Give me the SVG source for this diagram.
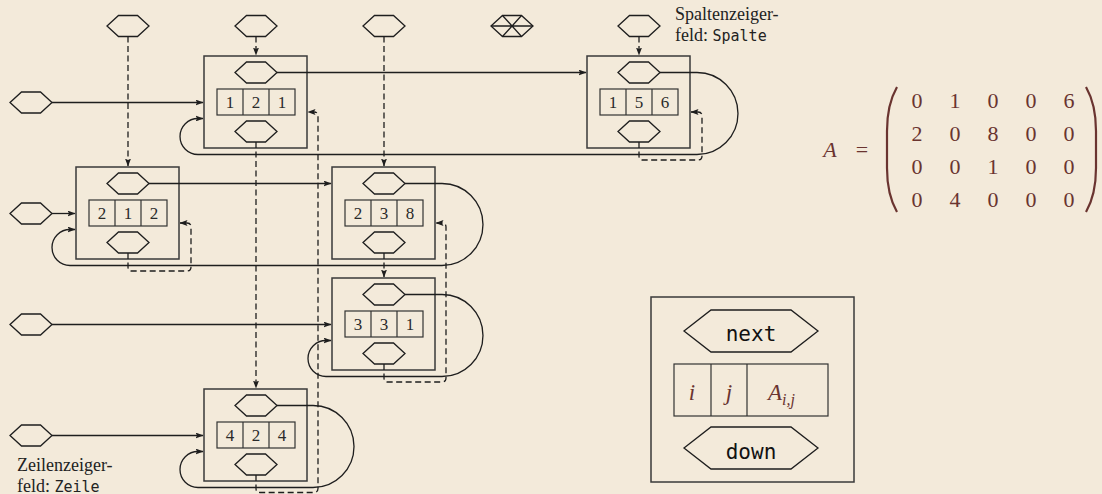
<svg xmlns="http://www.w3.org/2000/svg" xmlns:xlink="http://www.w3.org/1999/xlink" width="1102" height="494" viewBox="0 0 1102 494">
<defs>
<style>
.bx{fill:none;stroke:#3a3a3a;stroke-width:1.5}
.hx{fill:none;stroke:#1e1e1e;stroke-width:1.3;stroke-linejoin:miter}
.cell{fill:none;stroke:#333;stroke-width:1.2}
.num{font-family:"Liberation Serif",serif;font-size:17px;fill:#2a2a2a;text-anchor:middle}
.ln{fill:none;stroke:#1e1e1e;stroke-width:1.3}
.dl{fill:none;stroke:#1e1e1e;stroke-width:1.3;stroke-dasharray:6 3.5}
.lbl{font-family:"Liberation Serif",serif;font-size:18px;fill:#222}
.mono{font-family:"DejaVu Sans Mono",monospace;font-size:15px}
.mx{font-family:"Liberation Serif",serif;font-size:22px;fill:#6a3430;text-anchor:middle}
.it{font-style:italic}
.par{fill:none;stroke:#6a3430;stroke-width:2.2}
</style>
<polygon id="hx" class="hx" points="-21,0 -9.5,-10.5 9.5,-10.5 21,0 9.5,10.5 -9.5,10.5"/>
<marker id="ah" viewBox="0 0 8 6" refX="7.5" refY="3" markerWidth="8" markerHeight="6" markerUnits="userSpaceOnUse" orient="auto">
<path d="M0,0 L8,3 L0,6 L1.6,3 z" fill="#1e1e1e"/>
</marker>
</defs>
<rect width="1102" height="494" fill="#f3eada"/>

<!-- header hexagons -->
<g id="col1-head"><use xlink:href="#hx" x="128" y="26"/></g>
<g id="col2-head"><use xlink:href="#hx" x="256" y="26"/></g>
<g id="col3-head"><use xlink:href="#hx" x="384" y="26"/></g>
<g id="col4-head"><use xlink:href="#hx" x="512" y="26"/><path class="hx" d="M491,26 H533 M502.5,15.5 L521.5,36.5 M521.5,15.5 L502.5,36.5"/></g>
<g id="col5-head"><use xlink:href="#hx" x="639" y="26"/></g>

<!-- row pointer hexagons -->
<g id="row1-head"><use xlink:href="#hx" x="31" y="102.5"/></g>
<g id="row2-head"><use xlink:href="#hx" x="31" y="213.5"/></g>
<g id="row3-head"><use xlink:href="#hx" x="31" y="324.5"/></g>
<g id="row4-head"><use xlink:href="#hx" x="31" y="435.5"/></g>

<!-- nodes -->
<g id="n121">
<rect class="bx" x="204" y="56" width="103" height="92"/>
<use xlink:href="#hx" x="256" y="72.5"/>
<rect class="cell" x="217" y="89" width="78" height="26"/><path class="cell" d="M243,89 V115 M269,89 V115"/>
<text class="num" x="230" y="108">1</text><text class="num" x="256" y="108">2</text><text class="num" x="282" y="108">1</text>
<use xlink:href="#hx" x="256" y="131.5"/>
</g>
<g id="n156">
<rect class="bx" x="587" y="56" width="103" height="92"/>
<use xlink:href="#hx" x="639" y="72.5"/>
<rect class="cell" x="600" y="89" width="78" height="26"/><path class="cell" d="M626,89 V115 M652,89 V115"/>
<text class="num" x="613" y="108">1</text><text class="num" x="639" y="108">5</text><text class="num" x="665" y="108">6</text>
<use xlink:href="#hx" x="639" y="131.5"/>
</g>
<g id="n212">
<rect class="bx" x="76" y="167" width="103" height="92"/>
<use xlink:href="#hx" x="128" y="183.5"/>
<rect class="cell" x="89" y="200" width="78" height="26"/><path class="cell" d="M115,200 V226 M141,200 V226"/>
<text class="num" x="102" y="219">2</text><text class="num" x="128" y="219">1</text><text class="num" x="154" y="219">2</text>
<use xlink:href="#hx" x="128" y="242.5"/>
</g>
<g id="n238">
<rect class="bx" x="332" y="167" width="103" height="92"/>
<use xlink:href="#hx" x="384" y="183.5"/>
<rect class="cell" x="345" y="200" width="78" height="26"/><path class="cell" d="M371,200 V226 M397,200 V226"/>
<text class="num" x="358" y="219">2</text><text class="num" x="384" y="219">3</text><text class="num" x="410" y="219">8</text>
<use xlink:href="#hx" x="384" y="242.5"/>
</g>
<g id="n331">
<rect class="bx" x="332" y="278" width="103" height="92"/>
<use xlink:href="#hx" x="384" y="294.5"/>
<rect class="cell" x="345" y="311" width="78" height="26"/><path class="cell" d="M371,311 V337 M397,311 V337"/>
<text class="num" x="358" y="330">3</text><text class="num" x="384" y="330">3</text><text class="num" x="410" y="330">1</text>
<use xlink:href="#hx" x="384" y="353.5"/>
</g>
<g id="n424">
<rect class="bx" x="204" y="389" width="103" height="92"/>
<use xlink:href="#hx" x="256" y="405.5"/>
<rect class="cell" x="217" y="422" width="78" height="26"/><path class="cell" d="M243,422 V448 M269,422 V448"/>
<text class="num" x="230" y="441">4</text><text class="num" x="256" y="441">2</text><text class="num" x="282" y="441">4</text>
<use xlink:href="#hx" x="256" y="464.5"/>
</g>

<!-- connectors -->
<g id="connectors">
<path class="dl" marker-end="url(#ah)" d="M128,36.5 V166"/>
<path class="dl" marker-end="url(#ah)" d="M256,36.5 V55"/>
<path class="dl" marker-end="url(#ah)" d="M384,36.5 V166"/>
<path class="dl" marker-end="url(#ah)" d="M639,36.5 V55"/>
<path class="dl" marker-end="url(#ah)" d="M256,142 V388"/>
<path class="dl" marker-end="url(#ah)" d="M384,253 V277"/>
<path class="dl" marker-end="url(#ah)" d="M128,253 V267 Q128,271 132,271 H187 Q191,271 191,267 V227 Q191,223 187,223 H180"/>
<path class="dl" marker-end="url(#ah)" d="M256,475 V488.5 Q256,492.5 260,492.5 H314 Q318,492.5 318,488.5 V116 Q318,112 314,112 H308"/>
<path class="dl" marker-end="url(#ah)" d="M384,364 V378 Q384,382 388,382 H442 Q446,382 446,378 V227 Q446,223 442,223 H436"/>
<path class="dl" marker-end="url(#ah)" d="M639,142 V156 Q639,160 643,160 H698 Q702,160 702,156 V116 Q702,112 698,112 H691"/>

<path class="ln" marker-end="url(#ah)" d="M52,102.5 H203"/>
<path class="ln" marker-end="url(#ah)" d="M52,213.5 H75"/>
<path class="ln" marker-end="url(#ah)" d="M52,324.5 H331"/>
<path class="ln" marker-end="url(#ah)" d="M52,435.5 H203"/>
<path class="ln" marker-end="url(#ah)" d="M277,72.5 H586"/>
<path class="ln" marker-end="url(#ah)" d="M149,183.5 H331"/>
<path class="ln" marker-end="url(#ah)" d="M660,72.5 H697 A41,41 0 0 1 697,154.5 H198 A18,18 0 0 1 198,118.5 H203"/>
<path class="ln" marker-end="url(#ah)" d="M405,183.5 H442 A41,41 0 0 1 442,265.5 H70 A18,18 0 0 1 70,229.5 H75"/>
<path class="ln" marker-end="url(#ah)" d="M405,294.5 H442 A41,41 0 0 1 442,376.5 H326 A18,18 0 0 1 326,340.5 H331"/>
<path class="ln" marker-end="url(#ah)" d="M277,405.5 H313 A41,41 0 0 1 313,487.5 H198 A18,18 0 0 1 198,451.5 H203"/>
</g>

<!-- labels -->
<g id="label-spalte">
<text class="lbl" x="675" y="20">Spaltenzeiger-</text>
<text class="lbl" x="675" y="41">feld: <tspan class="mono">Spalte</tspan></text>
</g>
<g id="label-zeile">
<text class="lbl" x="17" y="471">Zeilenzeiger-</text>
<text class="lbl" x="17" y="492">feld: <tspan class="mono">Zeile</tspan></text>
</g>

<!-- matrix -->
<g id="matrix">
<text class="mx it" x="830" y="157">A</text>
<text class="mx" x="862" y="157">=</text>
<path class="par" d="M897,87 C889,101 887,116 887,131 V168 C887,183 889,198 897,212"/>
<path class="par" d="M1086,87 C1094,101 1096,116 1096,131 V168 C1096,183 1094,198 1086,212"/>
<text class="mx" y="108"><tspan x="917">0</tspan><tspan x="955">1</tspan><tspan x="993">0</tspan><tspan x="1031">0</tspan><tspan x="1069">6</tspan></text>
<text class="mx" y="141"><tspan x="917">2</tspan><tspan x="955">0</tspan><tspan x="993">8</tspan><tspan x="1031">0</tspan><tspan x="1069">0</tspan></text>
<text class="mx" y="174"><tspan x="917">0</tspan><tspan x="955">0</tspan><tspan x="993">1</tspan><tspan x="1031">0</tspan><tspan x="1069">0</tspan></text>
<text class="mx" y="207"><tspan x="917">0</tspan><tspan x="955">4</tspan><tspan x="993">0</tspan><tspan x="1031">0</tspan><tspan x="1069">0</tspan></text>
</g>

<!-- legend -->
<g id="legend">
<rect class="bx" x="651" y="297" width="203" height="185"/>
<polygon class="hx" points="684,331 711,310 791,310 818,331 791,352 711,352"/>
<text x="751" y="341" font-family="DejaVu Sans Mono, monospace" font-size="21" fill="#111" text-anchor="middle">next</text>
<rect class="cell" x="674" y="364" width="154" height="52"/>
<path class="cell" d="M711,364 V416 M747,364 V416"/>
<text x="692" y="400" font-family="Liberation Serif, serif" font-style="italic" font-size="23" fill="#6a3430" text-anchor="middle">i</text>
<text x="729" y="400" font-family="Liberation Serif, serif" font-style="italic" font-size="23" fill="#6a3430" text-anchor="middle">j</text>
<text x="768" y="400" font-family="Liberation Serif, serif" font-style="italic" font-size="23" fill="#6a3430">A<tspan font-size="16" dy="5">i,j</tspan></text>
<polygon class="hx" points="684,448 711,427 791,427 818,448 791,469 711,469"/>
<text x="751" y="459" font-family="DejaVu Sans Mono, monospace" font-size="21" fill="#111" text-anchor="middle">down</text>
</g>
</svg>
